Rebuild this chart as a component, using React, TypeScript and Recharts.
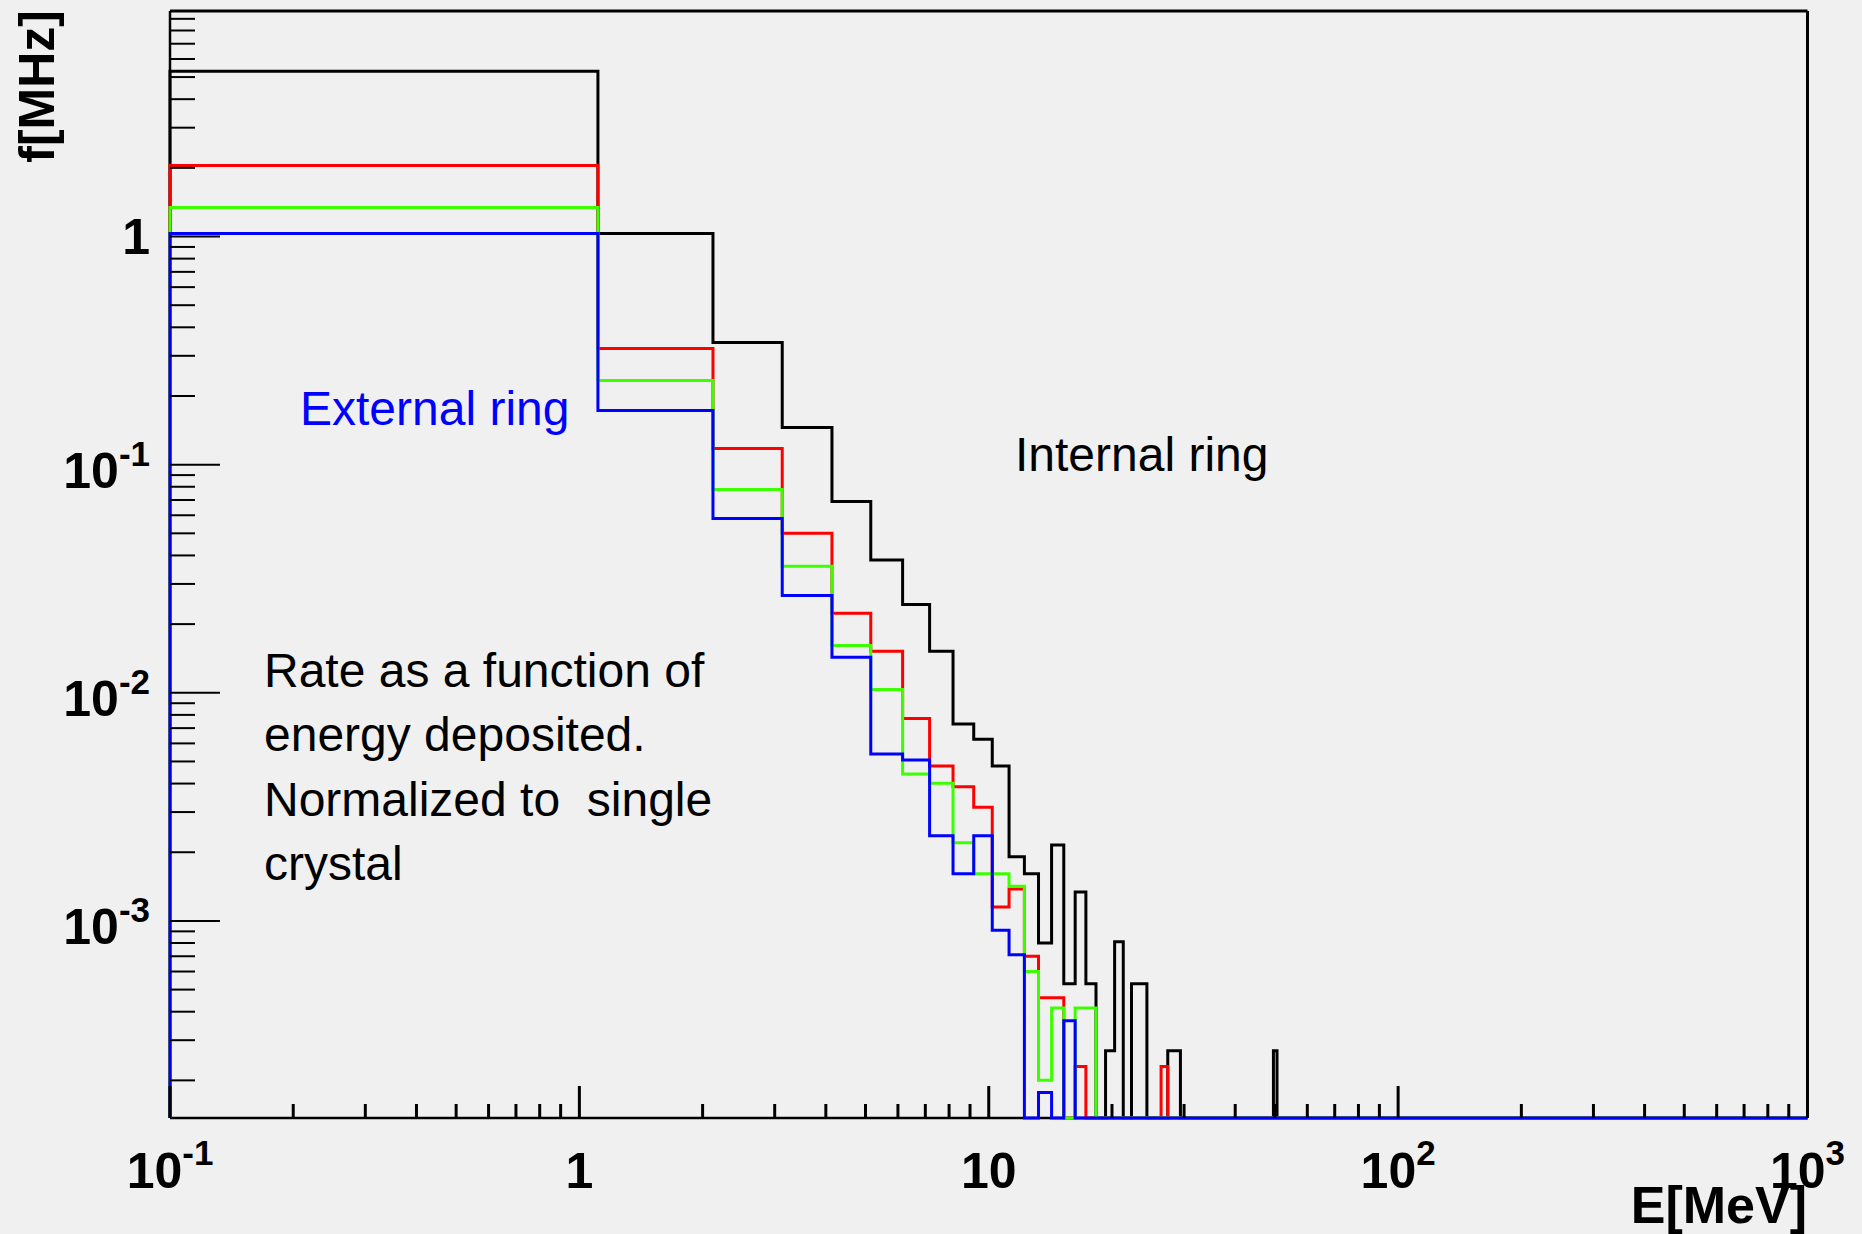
import { ComposedChart, Line, XAxis, YAxis } from "recharts";

// 1.01 MeV bins starting at 0.1 MeV (low edges); histograms run up to E_MAX
const BIN_LOW_EDGES = [
  0.1, 1.11, 2.12, 3.13, 4.14, 5.15, 6.16, 7.17, 8.18, 9.19, 10.2, 11.21, 12.22, 13.23, 14.24,
  15.25, 16.26, 17.27, 18.28, 19.29, 20.3, 21.31, 22.32, 23.33, 24.34, 25.35, 26.36, 27.37,
  28.38, 29.39, 30.4, 31.41, 32.42, 33.43, 34.44, 35.45, 36.46, 37.47, 38.48, 39.49, 40.5,
  41.51, 42.52, 43.53, 44.54, 45.55, 46.56, 47.57, 48.58, 49.59, 50.6,
];
const E_MAX = 1000;

// rate per bin in MHz (0 = empty bin); bins past the end of a list are empty
const INTERNAL_RING = [
  5.3, 1.03, 0.343, 0.1455, 0.069, 0.0382, 0.0244, 0.0152, 0.0073, 0.00625, 0.00477, 0.00191,
  0.00161, 0.0008, 0.00215, 0.00053, 0.00134, 0.00053, 0, 0.00027, 0.00081, 0, 0.00053, 0.00053,
  0, 0, 0, 0.00027, 0.00027, 0, 0, 0, 0, 0, 0, 0, 0, 0, 0, 0, 0, 0, 0, 0, 0, 0, 0, 0, 0, 0.00027,
];
const RING_RED = [
  2.05, 0.323, 0.1178, 0.0501, 0.0223, 0.0152, 0.00772, 0.00477, 0.00387, 0.00315, 0.00115,
  0.00138, 0.0007, 0.00046, 0.00046, 0, 0.00023, 0, 0, 0, 0, 0, 0, 0, 0, 0, 0.00023,
];
const RING_GREEN = [
  1.34, 0.234, 0.0779, 0.0359, 0.0161, 0.01035, 0.0044, 0.00401, 0.0022, 0.00161, 0.00161,
  0.00142, 0.0006, 0.0002, 0.000415, 0, 0.000415, 0.000415,
];
const EXTERNAL_RING = [
  1.03, 0.1728, 0.0581, 0.0267, 0.0143, 0.00539, 0.00507, 0.00236, 0.00161, 0.00236, 0.00091,
  0.00071, 0, 0.000177, 0, 0.000365,
];

const SERIES = [
  { key: "internal", values: INTERNAL_RING, color: "#000000" },
  { key: "red", values: RING_RED, color: "#ff0000" },
  { key: "green", values: RING_GREEN, color: "#3cff00" },
  { key: "external", values: EXTERNAL_RING, color: "#0000ff" },
];

const X_MIN = 0.1;
const Y_MIN = 1.368e-4;
const Y_MAX = 9.74;

const X_DECADES = [0.1, 1, 10, 100];
const Y_DECADES = [1e-4, 1e-3, 1e-2, 1e-1, 1];
const MINOR_STEPS = [2, 3, 4, 5, 6, 7, 8, 9];

const X_MAJOR = [0.1, 1, 10, 100, 1000];
const X_LABELS = [["10", "-1"], ["1", ""], ["10", ""], ["10", "2"], ["10", "3"]];
const Y_MAJOR = [0.001, 0.01, 0.1, 1];
const Y_LABELS = [["10", "-3"], ["10", "-2"], ["10", "-1"], ["1", ""]];

const NOTE_LINES = ["Rate as a function of", "energy deposited.", "Normalized to  single", "crystal"];

const FONT = "'Liberation Sans', Arial, Helvetica, sans-serif";

const xTicks = [
  ...X_MAJOR,
  ...X_DECADES.flatMap((d) => MINOR_STEPS.map((m) => m * d)),
].sort((a, b) => a - b);
const yTicks = [
  ...Y_MAJOR,
  ...Y_DECADES.flatMap((d) => MINOR_STEPS.map((m) => m * d)),
]
  .filter((v) => v >= Y_MIN && v <= Y_MAX)
  .sort((a, b) => a - b);

// empty bins sit on the bottom of the log pad, as ROOT draws them
const floor = (v: number | undefined) => (v && v > 0 ? v : Y_MIN);

const rows = [
  Object.fromEntries([["e", X_MIN], ...SERIES.map((s) => [s.key, Y_MIN])]),
  ...BIN_LOW_EDGES.map((e, i) =>
    Object.fromEntries([["e", e], ...SERIES.map((s) => [s.key, floor(s.values[i])])])
  ),
  Object.fromEntries([["e", E_MAX], ...SERIES.map((s) => [s.key, Y_MIN])]),
];

function findMajor(list: number[], v: number) {
  return list.findIndex((m) => Math.abs(m - v) / m < 1e-6);
}

function XTick(props: any) {
  const { x, y, payload } = props;
  const idx = findMajor(X_MAJOR, payload.value);
  const major = idx >= 0;
  return (
    <g>
      <line x1={x} x2={x} y1={y} y2={y - (major ? 32 : 14)} stroke="#000" strokeWidth={3} />
      {major && (
        <text x={x} y={y + 70} textAnchor="middle" fontSize={50} fontWeight="bold" fontFamily={FONT} fill="#000">
          {X_LABELS[idx][0]}
          {X_LABELS[idx][1] && (
            <tspan dy={-23} fontSize={35}>
              {X_LABELS[idx][1]}
            </tspan>
          )}
        </text>
      )}
    </g>
  );
}

function YTick(props: any) {
  const { x, y, payload } = props;
  const idx = findMajor(Y_MAJOR, payload.value);
  const major = idx >= 0;
  const sup = major ? Y_LABELS[idx][1] : "";
  return (
    <g>
      <line x1={x} x2={x + (major ? 50 : 25)} y1={y} y2={y} stroke="#000" strokeWidth={2} />
      {major && (
        <text x={x - 20} y={y + (sup ? 23 : 17)} textAnchor="end" fontSize={50} fontWeight="bold" fontFamily={FONT} fill="#000">
          {Y_LABELS[idx][0]}
          {sup && (
            <tspan dy={-22} fontSize={35}>
              {sup}
            </tspan>
          )}
        </text>
      )}
    </g>
  );
}

export default function App() {
  return (
    <div style={{ position: "absolute", left: 0, top: 0, width: 1862, height: 1234, background: "#f0f0f0" }}>
      <ComposedChart width={1862} height={1234} data={rows} margin={{ top: 10, right: 53.5, bottom: 115, left: 169 }}>
        <XAxis
          dataKey="e"
          type="number"
          scale="log"
          domain={[X_MIN, E_MAX]}
          ticks={xTicks}
          interval={0}
          height={1}
          tickSize={0}
          tickMargin={0}
          tickLine={false}
          axisLine={{ stroke: "#000", strokeWidth: 2.5 }}
          tick={(p: any) => <XTick {...p} />}
        />
        <XAxis
          xAxisId="top"
          orientation="top"
          type="number"
          domain={[0, 1]}
          height={1}
          tick={false}
          tickLine={false}
          axisLine={{ stroke: "#000", strokeWidth: 3 }}
        />
        <YAxis
          type="number"
          scale="log"
          domain={[Y_MIN, Y_MAX]}
          ticks={yTicks}
          interval={0}
          width={1}
          tickSize={0}
          tickMargin={0}
          tickLine={false}
          axisLine={{ stroke: "#000", strokeWidth: 2.5 }}
          tick={(p: any) => <YTick {...p} />}
        />
        <YAxis
          yAxisId="right"
          orientation="right"
          type="number"
          domain={[0, 1]}
          width={1}
          tick={false}
          tickLine={false}
          axisLine={{ stroke: "#000", strokeWidth: 3 }}
        />
        {SERIES.map((s) => (
          <Line
            key={s.key}
            dataKey={s.key}
            type="stepAfter"
            stroke={s.color}
            strokeWidth={3}
            strokeLinejoin="miter"
            dot={false}
            activeDot={false}
            isAnimationActive={false}
            zIndex={600}
          />
        ))}
      </ComposedChart>
      <svg
        width={1862}
        height={1234}
        style={{ position: "absolute", left: 0, top: 0, pointerEvents: "none" }}
        fontFamily={FONT}
      >
        <text transform="translate(54,10) rotate(-90)" textAnchor="end" fontSize={50} fontWeight="bold" fill="#000">
          f[MHz]
        </text>
        <text x={1807} y={1223} textAnchor="end" fontSize={52} fontWeight="bold" fill="#000">
          E[MeV]
        </text>
        <text x={300} y={425} fontSize={48} fill="#0000ff">
          External ring
        </text>
        <text x={1015} y={471} fontSize={48} fill="#000">
          Internal ring
        </text>
        {NOTE_LINES.map((t, i) => (
          <text key={t} x={264} y={687 + i * 64.3} fontSize={48} fill="#000" style={{ whiteSpace: "pre" }}>
            {t}
          </text>
        ))}
      </svg>
    </div>
  );
}
